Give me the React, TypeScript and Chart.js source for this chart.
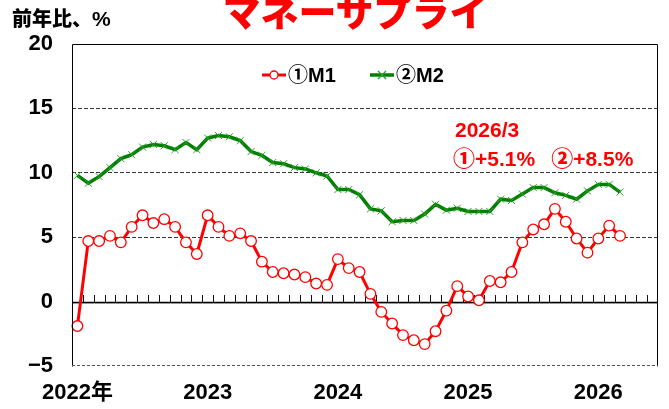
import React, { useEffect, useRef } from "react";
import { Chart, registerables } from "chart.js";

Chart.register(...registerables);

const months: string[] = [];
for (let y = 2022; y <= 2026; y++) {
  for (let m = 1; m <= 12; m++) {
    if (y === 2026 && m > 6) break;
    months.push(`${y}/${m}`);
  }
}

const yearLabels: Record<string, string> = {
  "2022/1": "2022年",
  "2023/1": "2023",
  "2024/1": "2024",
  "2025/1": "2025",
  "2026/1": "2026",
};

const m1 = [
  -1.9, 4.7, 4.7, 5.1, 4.6, 5.8, 6.7, 6.1, 6.4, 5.8, 4.6, 3.7,
  6.7, 5.8, 5.1, 5.3, 4.7, 3.1, 2.3, 2.2, 2.1, 1.9, 1.4, 1.3,
  3.3, 2.6, 2.3, 0.6, -0.8, -1.7, -2.6, -3.0, -3.3, -2.3, -0.7, 1.2,
  0.4, 0.1, 1.6, 1.5, 2.3, 4.6, 5.6, 6.0, 7.2, 6.2, 4.9, 3.8,
  4.9, 5.9, 5.1,
];

const m2 = [
  9.8, 9.2, 9.7, 10.4, 11.1, 11.4, 12.0, 12.2, 12.1, 11.8, 12.35, 11.8,
  12.7, 12.9, 12.8, 12.5, 11.65, 11.35, 10.8, 10.7, 10.4, 10.3, 10.0, 9.75,
  8.7, 8.7, 8.3, 7.2, 7.05, 6.2, 6.3, 6.3, 6.8, 7.55, 7.1, 7.25,
  7.0, 7.0, 7.0, 7.95, 7.85, 8.35, 8.85, 8.85, 8.45, 8.25, 7.95, 8.6,
  9.1, 9.1, 8.5,
];

const seriesNames = ["①M1", "②M2"];
const yTicks = [-5, 0, 5, 10, 15, 20];

const RED = "#ff0000";
const GREEN = "#008000";
const FONT = "'Liberation Sans', 'Noto Sans CJK JP', sans-serif";

const framePlugin = {
  id: "frame",
  beforeDatasetsDraw(chart: any) {
    const { ctx, chartArea: a, scales } = chart;
    const y0 = Math.round(scales.y.getPixelForValue(0));
    const n = months.length;
    const step = (a.right - a.left) / n;
    ctx.save();
    ctx.setLineDash([]);
    ctx.strokeStyle = "#c8c8c8";
    ctx.lineWidth = 1;
    ctx.beginPath();
    ctx.moveTo(a.left, y0 + 1.5);
    ctx.lineTo(a.right, y0 + 1.5);
    ctx.stroke();
    ctx.strokeStyle = "#000";
    ctx.lineWidth = 1.3;
    ctx.beginPath();
    ctx.moveTo(a.left, y0 + 0.5);
    ctx.lineTo(a.right, y0 + 0.5);
    ctx.stroke();
    ctx.strokeStyle = "#111";
    ctx.lineWidth = 1;
    for (let i = 1; i < n; i++) {
      const px = Math.round(a.left + i * step) + 0.5;
      ctx.beginPath();
      ctx.moveTo(px, y0);
      ctx.lineTo(px, y0 - 7);
      ctx.stroke();
    }
    ctx.restore();
  },
  afterDraw(chart: any) {
    const { ctx, chartArea: a } = chart;
    ctx.save();
    ctx.setLineDash([]);
    ctx.strokeStyle = "#000";
    ctx.lineWidth = 1;
    ctx.beginPath();
    ctx.moveTo(Math.round(a.left) + 0.5, Math.round(a.bottom) + 0.5);
    ctx.lineTo(Math.round(a.left) + 0.5, Math.round(a.top) + 0.5);
    ctx.lineTo(Math.round(a.right) - 0.5, Math.round(a.top) + 0.5);
    ctx.lineTo(Math.round(a.right) - 0.5, Math.round(a.bottom) + 0.5);
    ctx.stroke();
    ctx.setLineDash([3, 2]);
    ctx.strokeStyle = "#555";
    ctx.beginPath();
    ctx.moveTo(a.left, Math.round(a.bottom) - 0.5);
    ctx.lineTo(a.right, Math.round(a.bottom) - 0.5);
    ctx.stroke();
    ctx.setLineDash([]);

    // legend
    const ly = 75;
    const items = [
      { x0: 262, name: seriesNames[0], color: RED, style: "circle", pColor: RED, bg: "#fff", w: 3 },
      { x0: 370, name: seriesNames[1], color: GREEN, style: "cross", pColor: "#2e9e2e", bg: "#2e9e2e", w: 3.5 },
    ];
    items.forEach((it) => {
      ctx.strokeStyle = it.color;
      ctx.lineWidth = it.w;
      ctx.beginPath();
      ctx.moveTo(it.x0, ly);
      ctx.lineTo(it.x0 + 24, ly);
      ctx.stroke();
      ctx.lineWidth = 1.3;
      ctx.strokeStyle = it.pColor;
      ctx.fillStyle = it.bg;
      if (it.style === "circle") {
        ctx.beginPath();
        ctx.arc(it.x0 + 12, ly, 4, 0, Math.PI * 2);
        ctx.fill();
        ctx.stroke();
      } else {
        ctx.beginPath();
        ctx.moveTo(it.x0 + 8, ly - 4);
        ctx.lineTo(it.x0 + 16, ly + 4);
        ctx.moveTo(it.x0 + 16, ly - 4);
        ctx.lineTo(it.x0 + 8, ly + 4);
        ctx.stroke();
      }
      ctx.fillStyle = "#000";
      ctx.font = `bold 20px ${FONT}`;
      ctx.textBaseline = "middle";
      ctx.textAlign = "left";
      ctx.fillText(it.name, it.x0 + 26, ly + 1);
    });
    ctx.restore();
  },
};

export default function App() {
  const ref = useRef<HTMLCanvasElement | null>(null);

  useEffect(() => {
    if (!ref.current) return;
    const chart = new Chart(ref.current, {
      type: "line",
      data: {
        labels: months,
        datasets: [
          {
            label: seriesNames[1],
            data: m2,
            borderColor: GREEN,
            borderWidth: 3.5,
            pointStyle: "crossRot",
            pointRadius: 5,
            pointBorderColor: "#2e9e2e",
            pointBackgroundColor: "#2e9e2e",
            pointBorderWidth: 1,
            tension: 0,
          },
          {
            label: seriesNames[0],
            data: m1,
            borderColor: RED,
            borderWidth: 3,
            pointStyle: "circle",
            pointRadius: 5.3,
            pointBorderColor: RED,
            pointBackgroundColor: "#fff",
            pointBorderWidth: 1.3,
            tension: 0,
          },
        ],
      },
      options: {
        animation: false,
        responsive: false,
        maintainAspectRatio: false,
        devicePixelRatio: 1,
        layout: { padding: { top: 44, right: 11, left: 0, bottom: 0 } },
        plugins: { legend: { display: false }, tooltip: { enabled: false }, title: { display: false } },
        scales: {
          x: {
            type: "category",
            offset: true,
            grid: { display: false, drawTicks: false },
            border: { display: false },
            ticks: {
              autoSkip: false,
              maxRotation: 0,
              minRotation: 0,
              padding: 14,
              color: "#000",
              font: { family: FONT, size: 22, weight: "bold" },
              callback: (_v: any, i: number) => yearLabels[months[i]] ?? "",
            },
            afterFit: (s: any) => {
              s.height = 43;
            },
          },
          y: {
            min: yTicks[0],
            max: yTicks[yTicks.length - 1],
            afterBuildTicks: (s: any) => {
              s.ticks = yTicks.map((v) => ({ value: v }));
            },
            grid: {
              drawTicks: false,
              color: (c: any) => (c.tick && [5, 10, 15].includes(c.tick.value) ? "#333" : "transparent"),
              lineWidth: 1,
            },
            border: { display: false, dash: [4, 2] },
            ticks: {
              padding: 19,
              color: "#000",
              font: { family: FONT, size: 22, weight: "bold" },
              callback: (v: any) => (Number(v) < 0 ? "−" + Math.abs(Number(v)) : String(v)),
            },
            afterFit: (s: any) => {
              s.width = 72;
            },
          },
        },
      },
      plugins: [framePlugin],
    } as any);
    return () => chart.destroy();
  }, []);

  return (
    <div style={{ position: "fixed", left: 0, top: 0, width: 669, height: 409, background: "#fff", overflow: "hidden" }}>
      <canvas ref={ref} width={669} height={409} style={{ position: "absolute", left: 0, top: 0, width: 669, height: 409 }} />
      <div
        style={{
          position: "absolute",
          left: 0,
          width: 710,
          top: -9,
          textAlign: "center",
          color: RED,
          fontFamily: "'Noto Sans CJK JP', sans-serif",
          fontWeight: 900,
          fontSize: 38,
          lineHeight: "38px",
          whiteSpace: "nowrap",
        }}
      >
        マネーサプライ
      </div>
      <div
        style={{
          position: "absolute",
          left: 12,
          top: 6,
          color: "#000",
          fontFamily: "'Noto Sans CJK JP', sans-serif",
          fontWeight: 900,
          fontSize: 20,
          lineHeight: "24px",
          whiteSpace: "nowrap",
        }}
      >
        前年比、<span style={{ fontFamily: FONT, fontWeight: "bold", fontSize: 21 }}>%</span>
      </div>
      <div
        style={{
          position: "absolute",
          left: 455,
          top: 118,
          color: RED,
          fontFamily: FONT,
          fontWeight: "bold",
          fontSize: 21,
          lineHeight: "24px",
          whiteSpace: "pre",
        }}
      >
        {"2026/3"}
      </div>
      <div
        style={{
          position: "absolute",
          left: 453,
          top: 144,
          color: RED,
          fontFamily: FONT,
          fontWeight: "bold",
          fontSize: 21,
          lineHeight: "24px",
          whiteSpace: "pre",
        }}
      >
        <span style={{ fontFamily: "'Noto Sans CJK JP', sans-serif", fontWeight: 900, fontSize: 22 }}>①</span>
        {"+5.1%"}
        <span style={{ display: "inline-block", width: 16 }} />
        <span style={{ fontFamily: "'Noto Sans CJK JP', sans-serif", fontWeight: 900, fontSize: 22 }}>②</span>
        {"+8.5%"}
      </div>
    </div>
  );
}
